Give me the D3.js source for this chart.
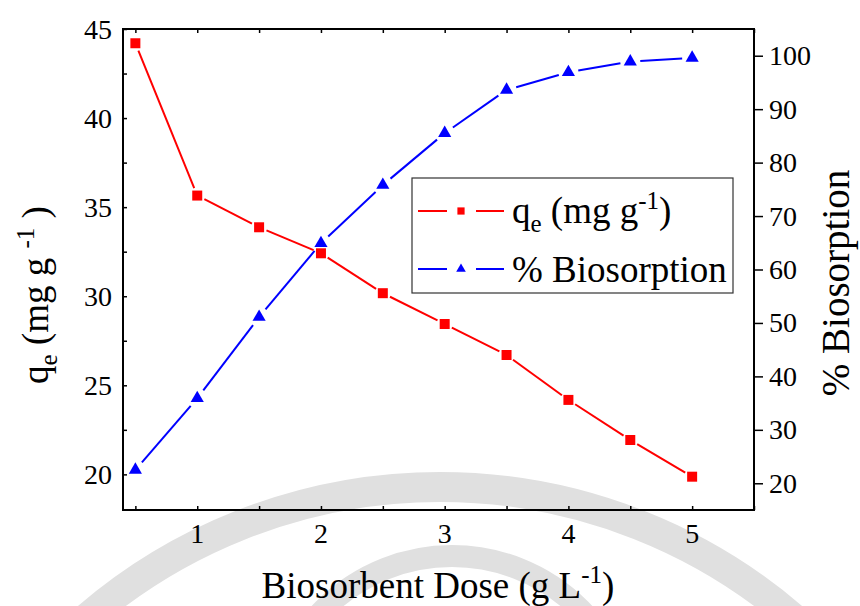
<!DOCTYPE html>
<meta charset="utf-8">
<style>
body { margin: 0; background: #fff; }
svg text { fill: #000; }
</style>
<body>
<script src="https://cdn.jsdelivr.net/npm/d3@7"></script>
<script>

// biosorbent dose (g/L)
var dose = [0.5, 1, 1.5, 2, 2.5, 3, 3.5, 4, 4.5, 5];
// q_e (mg/g), left axis
var qe = [44.2, 35.65, 33.87, 32.41, 30.17, 28.44, 26.70, 24.18, 21.93, 19.87];
// % biosorption, right axis
var biosorption = [22.5, 35.9, 51.1, 64.9, 75.8, 85.5, 93.6, 96.9, 98.9, 99.6];

var xTicks = [1, 2, 3, 4, 5];
var qeTicks = [20, 25, 30, 35, 40, 45];
var bioTicks = [20, 30, 40, 50, 60, 70, 80, 90, 100];

var width = 860,
    height = 606;

var margin = {top: 29, right: 106, bottom: 96, left: 123};
var x0 = margin.left, x1 = width - margin.right,
    y0 = margin.top, y1 = height - margin.bottom;

var svg = d3.select("body").append("svg")
    .attr("width", width)
    .attr("height", height);

// faint watermark rings behind the chart
svg.append("circle")
    .attr("cx", 440).attr("cy", 1028).attr("r", 541)
    .attr("fill", "none").attr("stroke", "#e0e0e0").attr("stroke-width", 30);
svg.append("circle")
    .attr("cx", 452).attr("cy", 737).attr("r", 181)
    .attr("fill", "none").attr("stroke", "#e0e0e0").attr("stroke-width", 22);

var x = d3.scaleLinear().domain([0.4, 5.5]).range([x0, x1]);
var yL = d3.scaleLinear().domain([18, 45]).range([y1, y0]);
var yR = d3.scaleLinear().domain([15, 105]).range([y1, y0]);

var minorX = d3.range(0.5, 5.51, 0.5);
var minorQ = d3.range(20, 45.1, 2.5);

var serif = "'Times New Roman', 'Liberation Serif', serif";
var tickSize = 28;

// bottom axis: inward ticks, labels at integers
var bottom = svg.append("g").attr("transform", "translate(0," + y1 + ")");
bottom.call(d3.axisBottom(x).tickValues(minorX).tickSize(-4).tickFormat(""));
bottom.selectAll("text.lbl").data(xTicks).enter().append("text")
    .attr("class", "lbl")
    .attr("x", function(d) { return x(d); })
    .attr("y", 33)
    .attr("text-anchor", "middle")
    .attr("font-family", serif)
    .attr("font-size", tickSize)
    .text(function(d) { return d; });

// top axis: inward ticks only
svg.append("g").attr("transform", "translate(0," + y0 + ")")
    .call(d3.axisTop(x).tickValues(minorX).tickSize(-4).tickFormat(""));

// left axis
var left = svg.append("g").attr("transform", "translate(" + x0 + ",0)");
left.call(d3.axisLeft(yL).tickValues(minorQ).tickSize(-4).tickFormat(""));
left.selectAll("text.lbl").data(qeTicks).enter().append("text")
    .attr("class", "lbl")
    .attr("x", -11)
    .attr("y", function(d) { return yL(d); })
    .attr("dy", "0.34em")
    .attr("text-anchor", "end")
    .attr("font-family", serif)
    .attr("font-size", tickSize)
    .text(function(d) { return d; });

// right axis: outward ticks
var right = svg.append("g").attr("transform", "translate(" + x1 + ",0)");
right.call(d3.axisRight(yR).tickValues(bioTicks).tickSize(9).tickPadding(6));
right.attr("font-family", serif).attr("font-size", tickSize);

svg.selectAll(".domain").remove();
svg.selectAll(".tick line").attr("stroke", "#000").attr("stroke-width", 1.5);

// frame
svg.append("rect")
    .attr("x", x0).attr("y", y0)
    .attr("width", x1 - x0).attr("height", y1 - y0)
    .attr("fill", "none").attr("stroke", "#000").attr("stroke-width", 2);

// lines with small gaps at the markers
function gappedSegments(xs, ys, yScale, gap) {
  var pts = xs.map(function(d, i) { return [x(d), yScale(ys[i])]; });
  var segs = [];
  for (var i = 0; i < pts.length - 1; i++) {
    var a = pts[i], b = pts[i + 1];
    var dx = b[0] - a[0], dy = b[1] - a[1], len = Math.sqrt(dx * dx + dy * dy);
    var ux = dx / len, uy = dy / len;
    segs.push([a[0] + ux * gap, a[1] + uy * gap, b[0] - ux * gap, b[1] - uy * gap]);
  }
  return segs;
}

function drawSeries(ys, yScale, color, symbolType, size, gap) {
  var g = svg.append("g");
  g.selectAll("line").data(gappedSegments(dose, ys, yScale, gap)).enter().append("line")
      .attr("x1", function(d) { return d[0]; })
      .attr("y1", function(d) { return d[1]; })
      .attr("x2", function(d) { return d[2]; })
      .attr("y2", function(d) { return d[3]; })
      .attr("stroke", color).attr("stroke-width", 2);
  g.selectAll("path").data(dose).enter().append("path")
      .attr("transform", function(d, i) { return "translate(" + x(d) + "," + yScale(ys[i]) + ")"; })
      .attr("d", d3.symbol().type(symbolType).size(size))
      .attr("fill", color);
}

drawSeries(biosorption, yR, "#0000ff", d3.symbolTriangle, 75, 10);
drawSeries(qe, yL, "#ff0000", d3.symbolSquare, 100, 8);

// legend
var lg = svg.append("g").attr("transform", "translate(412,178)");
lg.append("rect").attr("width", 321).attr("height", 115)
    .attr("fill", "#fff").attr("stroke", "#333").attr("stroke-width", 1.2);
var legendItems = [
  {color: "#ff0000", symbol: d3.symbolSquare, size: 52, y: 33},
  {color: "#0000ff", symbol: d3.symbolTriangle, size: 40, y: 91}
];
legendItems.forEach(function(it) {
  lg.append("line").attr("x1", 6).attr("x2", 35).attr("y1", it.y).attr("y2", it.y)
      .attr("stroke", it.color).attr("stroke-width", 2);
  lg.append("line").attr("x1", 64).attr("x2", 92).attr("y1", it.y).attr("y2", it.y)
      .attr("stroke", it.color).attr("stroke-width", 2);
  lg.append("path").attr("transform", "translate(49," + it.y + ")")
      .attr("d", d3.symbol().type(it.symbol).size(it.size))
      .attr("fill", it.color);
});
var t1 = lg.append("text").attr("x", 100).attr("y", 45)
    .attr("font-family", serif).attr("font-size", 37);
t1.append("tspan").text("q");
t1.append("tspan").attr("dy", 9).attr("font-size", 25).text("e");
t1.append("tspan").attr("dy", -9).text(" (mg g");
t1.append("tspan").attr("dy", -14).attr("font-size", 25).text("-1");
t1.append("tspan").attr("dy", 14).text(")");
lg.append("text").attr("x", 100).attr("y", 104)
    .attr("font-family", serif).attr("font-size", 37).text("% Biosorption");

// x axis title
var xt = svg.append("text")
    .attr("x", 438).attr("y", 598)
    .attr("text-anchor", "middle")
    .attr("font-family", serif).attr("font-size", 37);
xt.append("tspan").text("Biosorbent Dose (g L");
xt.append("tspan").attr("dy", -15).attr("font-size", 25).text("-1");
xt.append("tspan").attr("dy", 15).text(")");

// left title
var yt = svg.append("text")
    .attr("transform", "translate(48,295) rotate(-90)")
    .attr("text-anchor", "middle")
    .attr("font-family", serif).attr("font-size", 37);
yt.append("tspan").text("q");
yt.append("tspan").attr("dy", 9).attr("font-size", 25).text("e");
yt.append("tspan").attr("dy", -9).text(" (mg g ");
yt.append("tspan").attr("dy", -14).attr("font-size", 25).text("-1");
yt.append("tspan").attr("dy", 14).text(" )");

// right title
svg.append("text")
    .attr("transform", "translate(849,283) rotate(-90)")
    .attr("text-anchor", "middle")
    .attr("font-family", serif).attr("font-size", 39)
    .text("% Biosorption");

</script>
